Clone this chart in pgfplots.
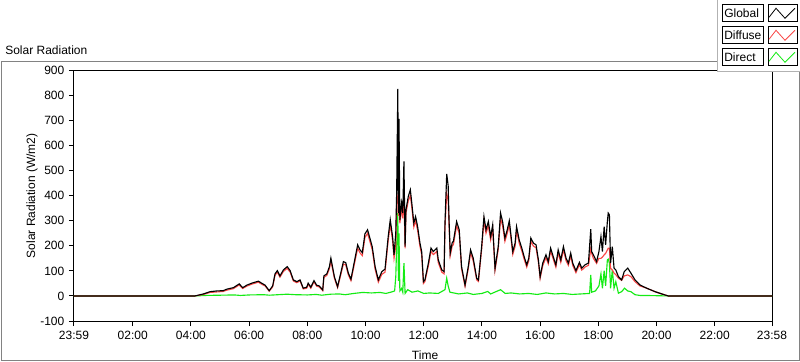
\documentclass[border=0pt]{standalone}
\usepackage{fontspec}
\setmainfont{Liberation Sans}
\usepackage{pgfplots}
\usepackage{pgfplotstable}
\pgfplotsset{compat=1.18}
\definecolor{dfred}{RGB}{250,70,70}
\definecolor{drgreen}{RGB}{20,235,20}
\definecolor{panelgray}{RGB}{130,130,130}

\pgfplotstableread{
h g d
-0.0167 0 0
4.14 0 0
4.43 8 6
4.66 17 14
4.89 20 16
5.11 21 18
5.23 27 23
5.46 33 29
5.66 48 44
5.78 33 30
5.92 43 39
6.09 51 47
6.32 59 55
6.43 51 47
6.55 43 40
6.69 21 19
6.81 40 36
6.89 88 82
6.97 101 95
7.06 80 75
7.18 104 98
7.31 117 110
7.41 101 95
7.52 64 60
7.64 57 53
7.75 64 60
7.86 31 28
7.98 35 31
8.03 51 47
8.12 35 31
8.23 61 56
8.32 43 39
8.41 40 36
8.53 24 21
8.57 80 74
8.67 88 82
8.76 117 109
8.81 151 140
8.93 77 71
9.04 37 33
9.12 77 70
9.24 137 127
9.32 133 124
9.41 91 84
9.50 67 61
9.61 133 123
9.73 204 190
9.81 184 172
9.89 173 161
9.98 248 233
10.07 264 250
10.15 231 218
10.23 197 185
10.33 117 106
10.44 64 55
10.56 97 86
10.67 107 95
10.78 237 222
10.85 304 285
10.93 237 222
10.98 164 150
11.04 251 200
11.07 411 380
11.11 827 400
11.13 331 320
11.15 707 390
11.18 304 290
11.24 371 350
11.28 331 310
11.32 537 400
11.36 197 190
11.39 344 330
11.47 397 380
11.54 424 400
11.59 371 355
11.66 291 275
11.72 317 300
11.79 277 262
11.87 211 198
11.93 177 165
11.99 57 50
12.04 64 57
12.16 131 120
12.25 191 178
12.33 177 165
12.45 191 178
12.50 144 133
12.62 104 95
12.70 97 88
12.73 291 270
12.79 487 410
12.84 440 380
12.87 304 285
12.91 171 160
12.98 213 200
13.02 218 205
13.13 297 280
13.22 264 250
13.30 117 108
13.42 44 38
13.53 117 108
13.61 184 172
13.70 151 140
13.82 71 64
13.88 64 58
13.99 197 185
14.07 317 300
14.14 264 250
14.22 297 280
14.30 237 224
14.37 284 268
14.45 111 102
14.56 197 185
14.64 331 310
14.71 297 280
14.79 231 218
14.87 264 250
14.94 300 284
14.99 251 238
15.06 177 166
15.14 211 198
15.19 277 262
15.28 224 211
15.37 191 180
15.45 157 147
15.54 124 115
15.61 151 141
15.68 231 218
15.77 211 199
15.86 204 192
15.94 144 135
16.00 77 70
16.09 131 121
16.20 164 153
16.28 137 128
16.36 191 179
16.45 157 147
16.54 124 115
16.62 184 172
16.71 144 134
16.80 197 184
16.89 151 141
16.97 131 122
17.05 171 160
17.12 131 122
17.23 101 93
17.35 134 125
17.43 111 103
17.54 124 115
17.66 131 122
17.74 267 187
17.77 177 170
17.83 164 150
17.94 137 130
18.02 177 150
18.09 237 150
18.14 177 155
18.20 277 164
18.25 204 170
18.31 297 184
18.34 331 191
18.38 324 191
18.42 131 110
18.48 197 104
18.54 111 91
18.60 104 85
18.69 77 71
18.80 64 62
18.89 97 80
19.01 111 84
19.12 91 77
19.26 64 57
19.43 44 40
19.66 31 31
19.95 17 17
20.18 8 8
20.40 0 0
23.967 0 0
}\globaldiffuse

\pgfplotstableread{
h r
-0.0167 0
4.14 0
4.5 2
5.0 3
5.5 4
5.7 2
6.0 4
6.5 5
6.7 3
7.0 5
7.3 7
7.6 5
8.0 4
8.3 6
8.5 3
8.8 7
9.1 8
9.3 5
9.6 10
9.9 14
10.2 12
10.5 14
10.7 10
10.9 16
11.0 20
11.04 77
11.07 200
11.11 331
11.13 60
11.15 250
11.18 20
11.24 30
11.28 15
11.32 131
11.36 10
11.45 25
11.6 15
11.8 20
12.0 10
12.2 12
12.5 10
12.73 25
12.79 71
12.84 40
12.9 15
13.2 8
13.5 12
13.7 6
14.0 10
14.2 18
14.3 8
14.64 25
14.8 10
15.0 12
15.3 8
15.6 10
15.9 6
16.2 12
16.5 8
16.8 10
17.1 6
17.4 8
17.7 10
17.74 84
17.77 15
17.9 20
18.02 40
18.09 88
18.14 30
18.20 101
18.25 40
18.31 144
18.34 147
18.38 131
18.42 30
18.48 104
18.54 31
18.60 57
18.69 11
18.80 17
18.90 31
19.01 20
19.12 17
19.26 5
19.43 2
19.60 2
20.00 1
20.40 0
23.967 0
}\direct

\begin{document}
\begin{tikzpicture}[x=0.75pt,y=0.75pt,font=\fontsize{9}{11}\selectfont]
\useasboundingbox (0,0) rectangle (800,361);
\draw[panelgray, line width=0.75pt] (1,1) rectangle (799,299);
\node[anchor=west, inner sep=0] at (5,311) {Solar Radiation};

\begin{axis}[
  at={(55.5pt,30pt)}, anchor=south west,
  scale only axis, width=523.5pt, height=187.9pt,
  xmin=-0.0167, xmax=23.967, ymin=-100, ymax=900,
  xtick={-0.0167,2,4,6,8,10,12,14,16,18,20,22,23.967},
  xticklabels={23:59,02:00,04:00,06:00,08:00,10:00,12:00,14:00,16:00,18:00,20:00,22:00,23:58},
  minor x tick num=5,
  ytick={-100,0,100,200,300,400,500,600,700,800,900},
  yticklabels={-100,0,100,200,300,400,500,600,700,800,900},
  xtick pos=lower, ytick pos=left,
  tick align=outside,
  major tick length=3.75pt, minor tick length=2.2pt,
  tick style={black, line width=0.75pt},
  axis line style={black, line width=0.75pt},
  tick label style={font=\fontsize{9}{11}\selectfont},
  xlabel={Time}, ylabel={Solar Radiation (W/m2)},
  label style={font=\fontsize{9}{11}\selectfont},
  xlabel style={at={(axis description cs:0.503,-0.136)}, anchor=center},
  ylabel style={at={(axis description cs:-0.060,0.5)}, anchor=center, rotate=0},
  clip=true,
]
\addplot[drgreen, line width=0.85pt] table[x=h, y=r] {\direct};
\addplot[dfred, line width=0.85pt] table[x=h, y=d] {\globaldiffuse};
\addplot[black, line width=0.85pt] table[x=h, y=g] {\globaldiffuse};
\end{axis}

% legend
\fill[white] (717,289) rectangle (800,361);
\draw[black!30, line width=0.75pt] (717,361) -- (717,289) -- (800,289);
\draw[black, fill=white, line width=0.75pt] (722,339) rectangle (763,356);
\node[anchor=west, inner sep=0] at (724,347.5) {Global};
\draw[black, fill=white, line width=0.75pt] (768,339) rectangle (797,356);
\draw[black, line width=0.6pt] (769,343.7) -- (776,352.7) -- (785,342.7) -- (795,352.7);
\draw[black, fill=white, line width=0.75pt] (722,317) rectangle (763,334);
\node[anchor=west, inner sep=0] at (724,325.5) {Diffuse};
\draw[black, fill=white, line width=0.75pt] (768,317) rectangle (797,334);
\draw[dfred, line width=0.6pt] (769,321.7) -- (776,330.7) -- (785,320.7) -- (795,330.7);
\draw[black, fill=white, line width=0.75pt] (722,295) rectangle (763,312);
\node[anchor=west, inner sep=0] at (724,303.5) {Direct};
\draw[black, fill=white, line width=0.75pt] (768,295) rectangle (797,312);
\draw[drgreen, line width=0.6pt] (769,299.7) -- (776,308.7) -- (785,298.7) -- (795,308.7);
\end{tikzpicture}
\end{document}
